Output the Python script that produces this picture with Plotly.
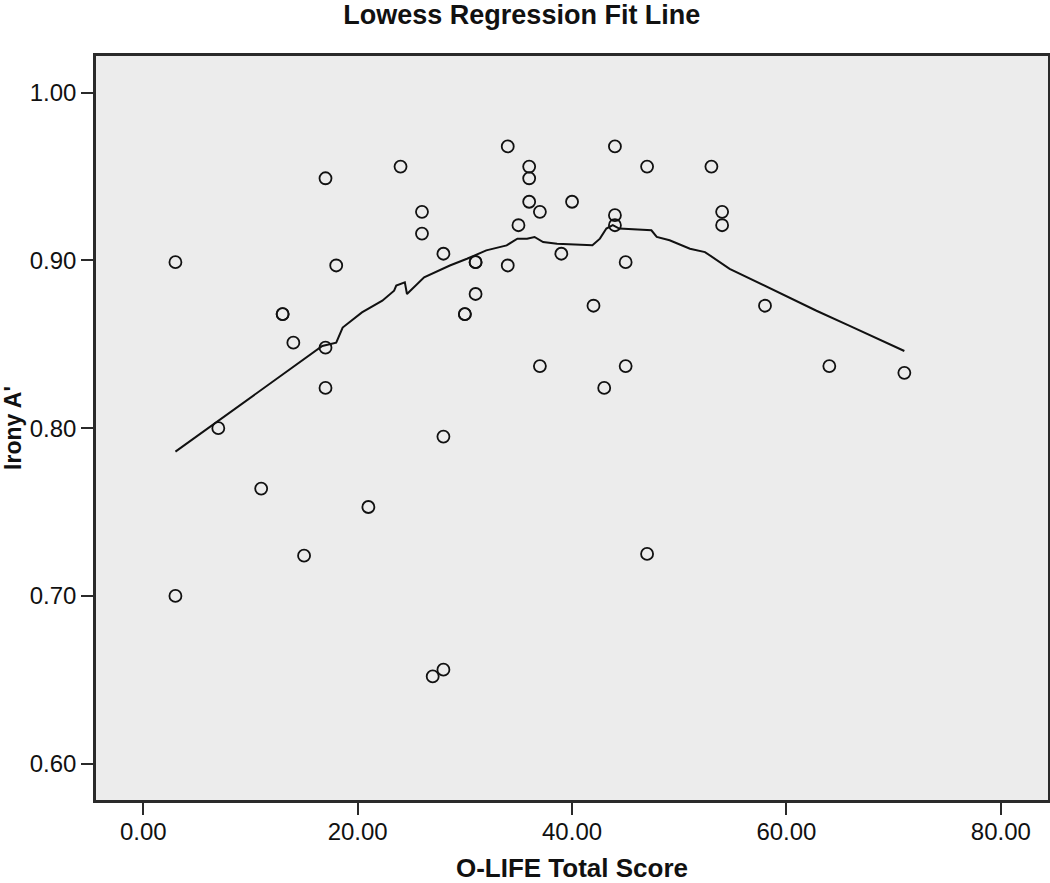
import plotly.graph_objects as go

# ── Data ──────────────────────────────────────────────────────────────────────
olife_score = [3, 3, 7, 11, 13, 13, 14, 15, 17, 17, 17, 18, 21, 24, 26, 26, 28, 28,
               27, 28, 30, 30, 31, 31, 31, 34, 34, 35, 36, 36, 36, 37, 37, 39, 40,
               42, 43, 44, 44, 44, 45, 45, 47, 47, 53, 54, 54, 58, 64, 71]
irony_a = [0.899, 0.700, 0.800, 0.764, 0.868, 0.868, 0.851, 0.724, 0.949, 0.848,
           0.824, 0.897, 0.753, 0.956, 0.929, 0.916, 0.904, 0.795, 0.652, 0.656,
           0.868, 0.868, 0.899, 0.899, 0.880, 0.968, 0.897, 0.921, 0.956, 0.949,
           0.935, 0.929, 0.837, 0.904, 0.935, 0.873, 0.824, 0.968, 0.927, 0.921,
           0.899, 0.837, 0.956, 0.725, 0.956, 0.929, 0.921, 0.873, 0.837, 0.833]

lowess_x = [3.0, 6.9, 16.7, 18.0, 18.6, 20.4, 22.3, 23.4, 23.6, 24.4, 24.6, 26.2,
            28.6, 30.2, 32.0, 33.9, 34.9, 35.8, 36.5, 37.3, 38.6, 41.9, 42.6, 43.2,
            43.8, 44.4, 47.4, 47.9, 49.1, 51.0, 52.4, 54.7, 58.2, 62.8, 65.9, 71.0]
lowess_y = [0.786, 0.804, 0.849, 0.851, 0.860, 0.869, 0.876, 0.882, 0.885, 0.887,
            0.880, 0.890, 0.897, 0.901, 0.906, 0.909, 0.913, 0.913, 0.914, 0.911,
            0.910, 0.909, 0.913, 0.919, 0.921, 0.919, 0.918, 0.914, 0.912, 0.907,
            0.905, 0.895, 0.884, 0.870, 0.861, 0.846]

x_ticks = [0, 20, 40, 60, 80]
y_ticks = [0.60, 0.70, 0.80, 0.90, 1.00]

FONT = "Liberation Sans, Arial, sans-serif"
C_INK = "#111111"
C_FRAME = "#2a2a2a"
C_PANEL = "#ececec"

fig = go.Figure()

# ── Fit line ──────────────────────────────────────────────────────────────────
fig.add_trace(go.Scatter(
    x=lowess_x, y=lowess_y,
    mode="lines",
    line=dict(color=C_INK, width=2),
    hoverinfo="skip",
))

# ── Observations as open circles ──────────────────────────────────────────────
fig.add_trace(go.Scatter(
    x=olife_score, y=irony_a,
    mode="markers",
    marker=dict(symbol="circle-open", size=12, color=C_INK,
                line=dict(color=C_INK, width=1.8)),
))

fig.update_layout(
    width=1050, height=883,
    paper_bgcolor="white", plot_bgcolor=C_PANEL,
    showlegend=False,
    margin=dict(l=96, r=2, t=56, b=83),
    title=dict(
        text="<b>Lowess Regression Fit Line</b>",
        font=dict(family=FONT, size=27, color=C_INK),
        x=0.497, xanchor="center", y=0.994, yanchor="top",
    ),
    font=dict(family=FONT, color=C_INK),
)

fig.update_xaxes(
    automargin=False,
    range=[-4.41, 84.4],
    tickvals=x_ticks,
    ticktext=[f"{v:.2f}" for v in x_ticks],
    ticks="outside", ticklen=12, tickwidth=2, tickcolor=C_FRAME,
    ticklabelstandoff=-4,
    tickfont=dict(family=FONT, size=24, color=C_INK),
    showgrid=False, zeroline=False,
    showline=True, linecolor=C_FRAME, linewidth=2.5, mirror=True,
    title=dict(text="<b>O-LIFE Total Score</b>",
               font=dict(family=FONT, size=26, color=C_INK), standoff=26),
)
fig.update_yaxes(
    automargin=False,
    range=[0.5783, 1.0219],
    tickvals=y_ticks,
    ticktext=[f"{v:.2f}" for v in y_ticks],
    ticks="outside", ticklen=12, tickwidth=2, tickcolor=C_FRAME,
    tickfont=dict(family=FONT, size=24, color=C_INK),
    showgrid=False, zeroline=False,
    showline=True, linecolor=C_FRAME, linewidth=2.5, mirror=True,
    title=dict(text="<b>Irony A'</b>",
               font=dict(family=FONT, size=23, color=C_INK), standoff=10),
)

# the page's default 8px body margin would push the figure off the window
fig.write_html(
    "out.html",
    config={"displayModeBar": False},
    post_script="document.body.style.margin='0';document.body.style.overflow='hidden';",
)
